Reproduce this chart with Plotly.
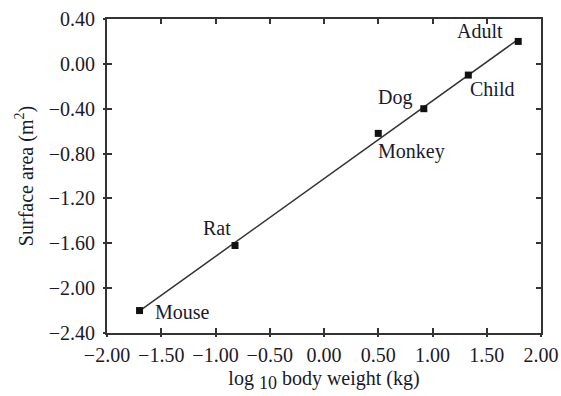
import numpy as np
import plotly.graph_objects as go

species = ["Mouse", "Rat", "Monkey", "Dog", "Child", "Adult"]
log_weight = [-1.70, -0.82, 0.50, 0.92, 1.33, 1.79]
surface_area = [-2.20, -1.62, -0.62, -0.40, -0.10, 0.20]
# label placement (pixel offsets relative to the point)
label_dx = [13, -18, -2, -29, 0, -38]
label_dy = [-1, 18, -18, 11, -14, 10]
label_anchor = ["left", "center", "left", "center", "left", "center"]

x_ticks = [-2.0, -1.5, -1.0, -0.5, 0.0, 0.5, 1.0, 1.5, 2.0]
y_ticks = [0.4, 0.0, -0.4, -0.8, -1.2, -1.6, -2.0, -2.4]

slope, intercept = np.polyfit(log_weight, surface_area, 1)
line_x = [min(log_weight), max(log_weight)]
line_y = [slope * v + intercept for v in line_x]

font = "Liberation Serif, Times New Roman, serif"
txt = "#1a1a2a"
axc = "#333333"

fig = go.Figure()
fig.add_trace(go.Scatter(x=line_x, y=line_y, mode="lines",
                         line=dict(color="#333333", width=1.5), showlegend=False))
fig.add_trace(go.Scatter(x=log_weight, y=surface_area, mode="markers",
                         marker=dict(symbol="square", size=7, color="#111111"),
                         showlegend=False))
# empty trace so the overlay axes (outer tick halves) are drawn
fig.add_trace(go.Scatter(x=[None], y=[None], xaxis="x2", yaxis="y2",
                         showlegend=False, hoverinfo="skip"))

for s, x, y, dx, dy, a in zip(species, log_weight, surface_area, label_dx, label_dy, label_anchor):
    fig.add_annotation(x=x, y=y, xref="x", yref="y", text=s, showarrow=False,
                       xanchor=a, yanchor="middle", xshift=dx, yshift=dy,
                       font=dict(family=font, size=20, color=txt))

def minus(v):
    return f"{v:.2f}".replace("-", "\u2212")

fig.update_layout(
    xaxis=dict(range=[-2.0, 2.0], tickvals=x_ticks, ticktext=[minus(v) for v in x_ticks],
               ticks="inside", ticklen=5, tickwidth=1.5, tickcolor=axc,
               showline=True, linecolor=axc, linewidth=2, mirror="ticks",
               showgrid=False, zeroline=False, automargin=False,
               ticklabelstandoff=3,
               tickfont=dict(family=font, size=20, color=txt),
               title=dict(text="log <sub><span style='font-size:18px'>10</span></sub> body weight (kg)",
                          font=dict(family=font, size=20, color=txt), standoff=6)),
    yaxis=dict(range=[-2.4, 0.4], tickvals=y_ticks, ticktext=[minus(v) for v in y_ticks],
               ticks="inside", ticklen=5, tickwidth=1.5, tickcolor=axc,
               showline=True, linecolor=axc, linewidth=2, mirror="ticks",
               showgrid=False, zeroline=False, automargin=False,
               ticklabelstandoff=6,
               tickfont=dict(family=font, size=20, color=txt),
               title=dict(text="Surface area (m<sup>2</sup>)",
                          font=dict(family=font, size=20, color=txt), standoff=10)),
    xaxis2=dict(range=[-2.0, 2.0], tickvals=x_ticks, overlaying="x", anchor="y", side="bottom",
                ticks="outside", ticklen=3, tickwidth=1.5, tickcolor=axc,
                showticklabels=False, showgrid=False, zeroline=False, showline=False,
                automargin=False),
    yaxis2=dict(range=[-2.4, 0.4], tickvals=y_ticks, overlaying="y", anchor="x", side="left",
                ticks="outside", ticklen=3, tickwidth=1.5, tickcolor=axc,
                showticklabels=False, showgrid=False, zeroline=False, showline=False,
                automargin=False),
    width=561, height=396, margin=dict(l=107, r=20, t=19, b=63),
    plot_bgcolor="white", paper_bgcolor="white")
fig.write_html("out.html")
